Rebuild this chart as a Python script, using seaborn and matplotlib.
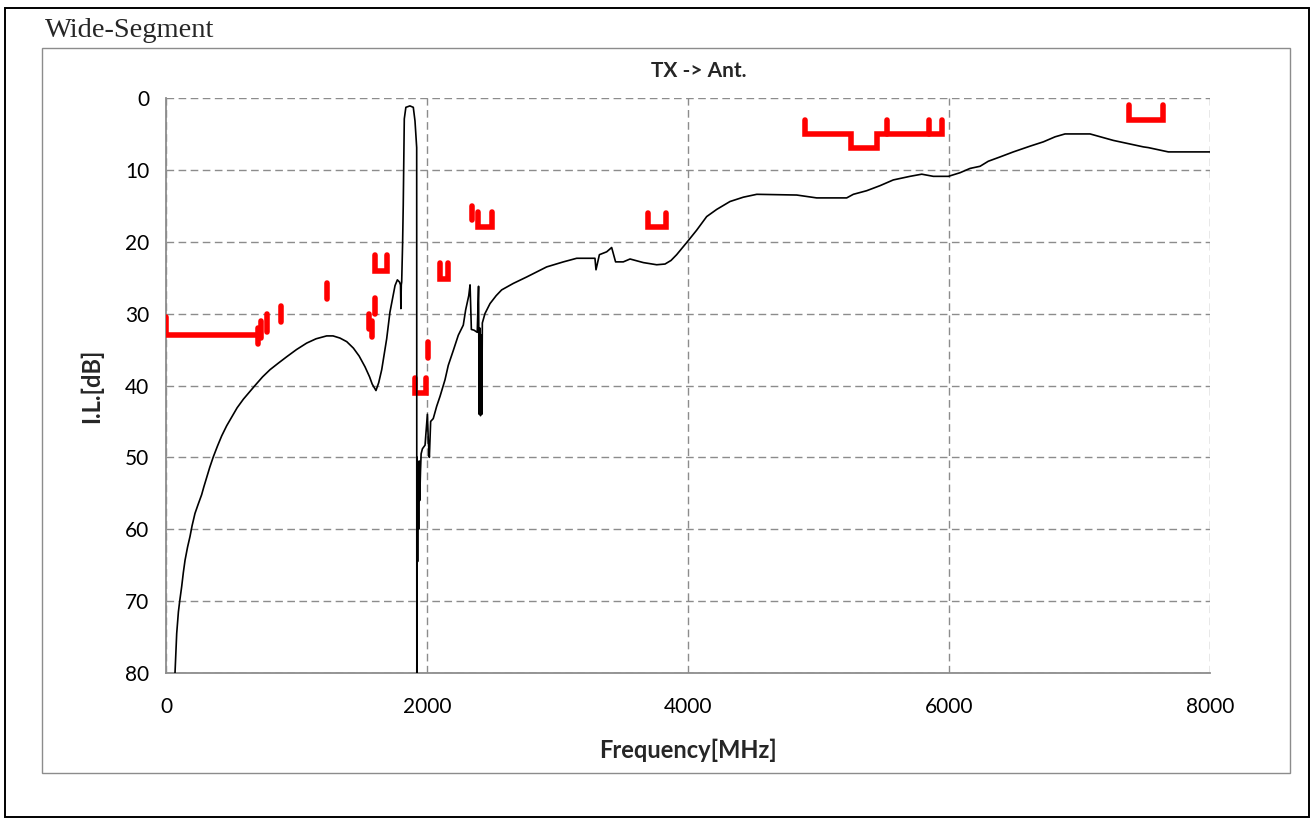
import numpy as np
import pandas as pd
import matplotlib
matplotlib.use("Agg")
import matplotlib.pyplot as plt
from matplotlib.patches import Rectangle
import seaborn as sns

# ---- measured insertion-loss curve (TX -> Ant.) ----
freq_mhz = [69, 82, 95, 105, 120, 133, 146, 165, 184, 200, 222, 245, 273, 290, 312, 335,
            363, 395, 427, 465, 503, 545, 593, 640, 682, 740, 797, 860, 925, 1000,
            1078, 1150, 1231, 1280, 1333, 1385, 1436, 1480, 1525, 1560, 1580, 1609, 1630,
            1653, 1691, 1716, 1740, 1755, 1773,
            1789, 1797, 1800, 1803, 1806, 1813, 1818, 1826, 1838, 1869, 1895, 1908, 1921,
            1922, 1924, 1928, 1932, 1936, 1940, 1944, 1950, 1955, 1965, 1985, 1995, 2003,
            2010, 2018, 2028, 2048, 2074, 2100, 2138, 2163, 2202, 2240, 2278, 2296, 2320,
            2330, 2340, 2360, 2385, 2395, 2400, 2405, 2410, 2415, 2420, 2424, 2444, 2483,
            2530, 2572, 2661, 2764, 2917, 3045, 3147, 3287, 3295, 3321, 3377, 3415, 3445,
            3504, 3556, 3658, 3760, 3824, 3870, 3913, 3995, 4066, 4143, 4220, 4322, 4424,
            4527, 4833, 4986, 5216, 5267, 5369, 5471, 5573, 5701, 5791, 5880, 5995, 6084,
            6161, 6238, 6301, 6391, 6493, 6621, 6723, 6813, 6889, 7081, 7259, 7489, 7527,
            7681, 8000]
il_db = [80, 74.5, 71.5, 70, 68, 66, 64.3, 62.5, 61, 59.5, 57.8, 56.6, 55.2, 54.1, 52.8, 51.4,
         49.9, 48.4, 47.0, 45.6, 44.4, 43.1, 41.9, 40.9, 40, 38.8, 37.8, 36.9, 36, 35,
         34.1, 33.5, 33.1, 33.1, 33.4, 33.9, 34.8, 35.9, 37.4, 38.8, 39.8, 40.7, 39.6,
         37.8, 33.5, 29.8, 27.5, 26.1, 25.3,
         25.6, 26, 29.3, 26, 25.6, 20.3, 14.9, 2.9, 1.3, 1.1, 1.3, 3.2, 6.9,
         80, 50, 64.5, 51, 60, 50.5, 56, 52, 49.5, 48.8, 48.3, 46, 44,
         47.7, 50, 45, 44.6, 42.9, 41.5, 39.2, 37.2, 35.1, 33, 31.6, 29.5, 27.5,
         26.0, 32.2, 32.3, 32.6, 26.2, 44, 32, 44.2, 33, 44, 31.3, 30, 28.6,
         27.5, 26.7, 25.8, 24.9, 23.5, 22.8, 22.3, 22.3, 23.9, 21.8, 21.4, 20.8, 22.8,
         22.8, 22.4, 22.9, 23.2, 23.1, 22.6, 21.8, 20, 18.4, 16.5, 15.5, 14.4, 13.8,
         13.4, 13.5, 13.9, 13.9, 13.4, 12.9, 12.2, 11.4, 10.9, 10.6, 10.9, 10.9, 10.4,
         9.8, 9.5, 8.8, 8.2, 7.5, 6.7, 6.1, 5.4, 5.0, 5.0, 5.9, 6.8, 6.9,
         7.5, 7.5]

# ---- specification mask (red), one id per drawn segment ----
mask_freq = [0, 0, 705,   705, 705,   730, 730,   775, 775,   880, 880,   1235, 1235,
             1555, 1555,   1580, 1580,   1600, 1600,
             1600, 1600, 1690, 1690,
             1910, 1910, 1995, 1995,
             2010, 2010,
             2100, 2100, 2160, 2160,
             2345, 2345,
             2390, 2390, 2500, 2500,
             3690, 3690, 3830, 3830,
             4900, 4900, 5250, 5250, 5445, 5445, 5950, 5950,
             5523, 5523,   5847, 5847,
             7380, 7380, 7640, 7640]
mask_il = [30.5, 33, 33,   32, 34.2,   31, 33.4,   30, 32.6,   29, 31.2,   25.8, 28,
           30, 32.2,   31, 33.2,   27.8, 30,
           21.8, 24, 24, 21.8,
           39, 41, 41, 39,
           34, 36.2,
           23, 25.2, 25.2, 23,
           15, 17,
           15.8, 18, 18, 15.8,
           16, 18, 18, 16,
           3, 5, 5, 7, 7, 5, 5, 3,
           3, 5,   3, 5,
           1, 3, 3, 1]
mask_seg = [0, 0, 0,   1, 1,   2, 2,   3, 3,   4, 4,   5, 5,
            6, 6,   7, 7,   8, 8,
            9, 9, 9, 9,
            10, 10, 10, 10,
            11, 11,
            12, 12, 12, 12,
            13, 13,
            14, 14, 14, 14,
            15, 15, 15, 15,
            16, 16, 16, 16, 16, 16, 16, 16,
            17, 17,   18, 18,
            19, 19, 19, 19]

x_ticks = [0, 2000, 4000, 6000, 8000]
y_ticks = [0, 10, 20, 30, 40, 50, 60, 70, 80]
title_text = "TX -> Ant."
x_label = "Frequency[MHz]"
y_label = "I.L.[dB]"
corner_label = "Wide-Segment"

sns.set_theme(style="white")
plt.rcParams["font.family"] = ["Lato", "DejaVu Sans"]

fig = plt.figure(figsize=(13.16, 8.21), dpi=100)
ax = fig.add_axes([166 / 1316, 1 - 673 / 821, (1210 - 166) / 1316, (673 - 98) / 821])

curve = pd.DataFrame({"f": freq_mhz, "il": il_db})
mask = pd.DataFrame({"f": mask_freq, "il": mask_il, "seg": mask_seg})

sns.lineplot(data=mask, x="f", y="il", units="seg", estimator=None, sort=False,
             color="#ff0000", linewidth=4.0, ax=ax, zorder=3,
             solid_capstyle="round", solid_joinstyle="miter")
sns.lineplot(data=curve, x="f", y="il", estimator=None, sort=False,
             color="black", linewidth=1.2, ax=ax, zorder=4)

ax.set_xlim(0, 8000)
ax.set_ylim(80, 0)
ax.set_xticks(x_ticks)
ax.set_yticks(y_ticks)
ax.set_xticklabels([str(t) for t in x_ticks])
ax.set_yticklabels([str(t) for t in y_ticks])
ax.grid(True, color="#8c8c8c", linestyle=(0, (5.5, 3.2)), linewidth=1.0)
ax.set_axisbelow(True)
for s in ["top", "right"]:
    ax.spines[s].set_visible(False)
for s in ["left", "bottom"]:
    ax.spines[s].set_color("#8c8c8c")
    ax.spines[s].set_linewidth(1.3)
ax.tick_params(axis="both", labelsize=15, colors="black", length=3,
               color="#8c8c8c", direction="out", pad=9)
ax.tick_params(axis="x", pad=14)
ax.set_xlabel(x_label, fontsize=17, fontweight="bold", labelpad=16)
ax.set_ylabel(y_label, fontsize=17, fontweight="bold", labelpad=16)
ax.set_title(title_text, fontsize=15, fontweight="bold", pad=15, x=0.51)

fig.add_artist(Rectangle((5 / 1316, 1 - 817 / 821), 1304 / 1316, 809 / 821,
                         transform=fig.transFigure, fill=False, edgecolor="black",
                         linewidth=1.4))
fig.add_artist(Rectangle((42 / 1316, 1 - 773 / 821), 1248 / 1316, 725 / 821,
                         transform=fig.transFigure, fill=False, edgecolor="#8c8c8c",
                         linewidth=1.0))
fig.text(45 / 1316, 1 - 37 / 821, corner_label, fontsize=20.5,
         family=["Liberation Serif", "DejaVu Serif"], va="baseline", ha="left")

fig.savefig("out.png", dpi=100)
